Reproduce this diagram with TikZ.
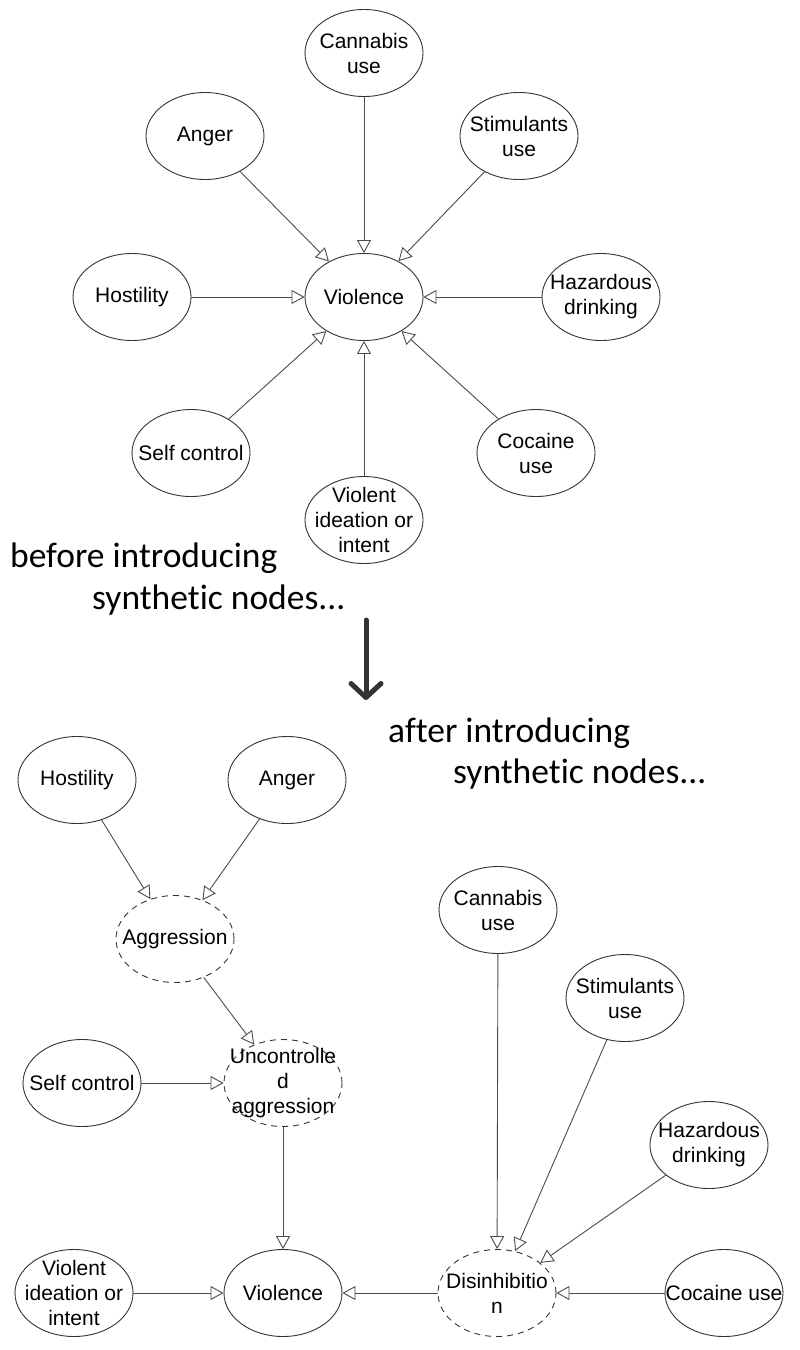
\documentclass[tikz,border=0pt]{standalone}
\usepackage{fontspec}
\setmainfont{Liberation Sans}
\newfontfamily\notefont[Ligatures=NoCommon]{Carlito}
\usetikzlibrary{shapes.geometric,arrows.meta}

\tikzset{
    varnode/.style={ellipse, draw=black!80, line width=0.9pt, minimum width=118pt, minimum height=87pt,
        inner xsep=-20pt, inner ysep=-8pt, align=center, font=\fontsize{21}{25}\selectfont},
    synnode/.style={varnode, dash pattern=on 6pt off 5pt},
    link/.style={draw=black!70, line width=0.9pt, -{Triangle[open, length=13pt, width=14pt]}},
    note/.style={anchor=base west, inner sep=0pt, font=\notefont\fontsize{35.5}{40}\selectfont}
}

\begin{document}
\begin{tikzpicture}[x=1pt, y=-1pt]
                \fill[white] (0,0) rectangle (800,1350);
                \useasboundingbox (0,0) rectangle (800,1350);
                \node[varnode] (cannA) at (364,53) {Cannabis\\use};
                \node[varnode] (angerA) at (205,136) {Anger};
                \node[varnode] (stimA) at (519,136) {Stimulants\\use};
                \node[varnode] (hostA) at (132,297) {Hostility};
                \node[varnode] (violA) at (364,297) {Violence};
                \node[varnode] (hazA) at (601,297) {Hazardous\\drinking};
                \node[varnode] (selfA) at (191,453) {Self control};
                \node[varnode] (cocA) at (536,453) {Cocaine\\use};
                \node[varnode] (ideaA) at (364,520) {Violent\\ideation or\\intent};
                \draw[link] (cannA) -- (violA);
                \draw[link] (angerA) -- (violA);
                \draw[link] (stimA) -- (violA);
                \draw[link] (hostA) -- (violA);
                \draw[link] (hazA) -- (violA);
                \draw[link] (selfA) -- (violA);
                \draw[link] (cocA) -- (violA);
                \draw[link] (ideaA) -- (violA);
                \node[note] (before1) at (10,567) {before introducing};
                \node[note] (before2) at (92,609) {synthetic nodes...};
                \coordinate (arrtop) at (366,620);
                \coordinate (arrbot) at (366,700);
                \draw[black!80, line width=5pt, line cap=round, -{Straight Barb[round, length=14pt, width=30pt]}] (arrtop) -- (arrbot);
                \node[note] (after1) at (388,742) {after introducing};
                \node[note] (after2) at (453,783) {synthetic nodes...};
                \node[varnode] (hostB) at (77,780) {Hostility};
                \node[varnode] (angerB) at (287,780) {Anger};
                \node[synnode] (aggr) at (175,939) {Aggression};
                \node[varnode] (selfB) at (82,1083) {Self control};
                \node[synnode] (unctrl) at (283,1083) {Uncontrolle\\d\\aggression};
                \node[varnode] (cannB) at (498,910) {Cannabis\\use};
                \node[varnode] (stimB) at (625,998) {Stimulants\\use};
                \node[varnode] (hazB) at (709,1145) {Hazardous\\drinking};
                \node[varnode] (ideaB) at (74,1293) {Violent\\ideation or\\intent};
                \node[varnode] (violB) at (283,1293) {Violence};
                \node[synnode] (disinh) at (497,1293) {Disinhibitio\\n};
                \node[varnode] (cocB) at (724,1293) {Cocaine use};
                \draw[link] (hostB) -- (aggr);
                \draw[link] (angerB) -- (aggr);
                \draw[link] (aggr) -- (unctrl);
                \draw[link] (selfB) -- (unctrl);
                \draw[link] (unctrl) -- (violB);
                \draw[link] (ideaB) -- (violB);
                \draw[link] (disinh) -- (violB);
                \draw[link] (cannB) -- (disinh);
                \draw[link] (stimB) -- (disinh);
                \draw[link] (hazB) -- (disinh);
                \draw[link] (cocB) -- (disinh);
            \end{tikzpicture}
\end{document}
